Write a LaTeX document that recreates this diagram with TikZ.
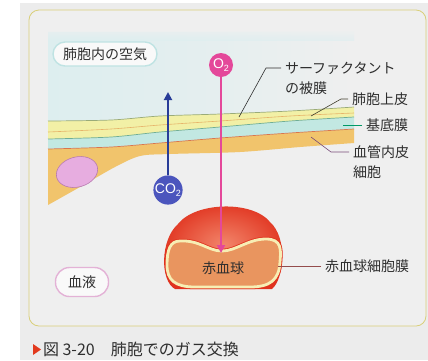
\documentclass[tikz,border=0pt]{standalone}
\usepackage{fontspec}
\setmainfont{Noto Sans CJK JP}
\newfontfamily\latin{Liberation Sans}
\usetikzlibrary{arrows.meta}

\definecolor{pagegrey}{HTML}{ECECEC}
\definecolor{panelgrey}{HTML}{EFEFEF}
\definecolor{panelrim}{HTML}{D9CF7A}
\definecolor{airtint}{HTML}{DDEEEF}
\definecolor{airrim}{HTML}{BFE3E3}
\definecolor{yellowlayer}{HTML}{F2F0A6}
\definecolor{cyanlayer}{HTML}{C2E8E2}
\definecolor{orangelayer}{HTML}{F1C46C}
\definecolor{lineA}{HTML}{9AAB78}
\definecolor{lineB}{HTML}{E6B36A}
\definecolor{lineC}{HTML}{6FAE96}
\definecolor{lineD}{HTML}{D9764C}
\definecolor{nucfill}{HTML}{E7ADE0}
\definecolor{nucrim}{HTML}{B77AB0}
\definecolor{bloodrim}{HTML}{E3B2D6}
\definecolor{otwopink}{HTML}{E4489A}
\definecolor{cotwoblue}{HTML}{4B55BD}
\definecolor{cotwoline}{HTML}{283C98}
\definecolor{rbcdark}{HTML}{E0321E}
\definecolor{rbclight}{HTML}{F2856A}
\definecolor{rbcinner}{HTML}{E9955F}
\definecolor{rbccream}{HTML}{F7EEB4}
\definecolor{textgrey}{HTML}{2E2E2E}
\definecolor{capred}{HTML}{E23A1E}

\newcommand\gassub[1]{\raisebox{-0.5ex}{\fontsize{9}{9}\selectfont #1}}

\tikzset{
  label/.style={inner sep=0pt, outer xsep=4pt, text=textgrey,
    font=\fontsize{14}{16}\selectfont},
  pill/.style={draw, line width=1.4pt, fill=white!60!panelgrey,
    inner sep=0pt, text=textgrey, font=\fontsize{14}{16}\selectfont},
  gas/.style={circle, inner sep=0pt, minimum size=24pt, text=white,
    font=\latin\fontsize{14}{14}\selectfont},
  leader/.style={line width=0.6pt},
}

\begin{document}
\begin{tikzpicture}[x=1pt,y=-1pt]
\useasboundingbox (0,0) rectangle (428,360);
\fill[white] (0,0) rectangle (428,360);
\fill[pagegrey] (20,3) rectangle (428,360);

% framed panel
\filldraw[fill=panelgrey, draw=panelrim, line width=0.8pt, rounded corners=10pt]
  (29,10) rectangle (426,326);

% air inside the alveolus, fading out to the right
\shade[left color=airtint, right color=panelgrey, middle color=airtint!60!panelgrey]
  (48,32) rectangle (354,122);
\shade[top color=panelgrey, bottom color=panelgrey!0!airtint, opacity=0.6]
  (48,30) rectangle (354,40);

% layer boundaries
\def\lineAcoords{(48,121) (111,120) (160,116) (220,114) (290,111) (354,107)}
\def\lineBcoords{(48,132) (111,129) (160,125) (220,121) (290,116) (354,113)}
\def\lineCcoords{(48,139) (111,137) (160,132) (220,127) (290,121) (354,117)}
\def\lineDcoords{(48,149) (111,147) (160,143) (220,138) (290,133) (354,129)}
\def\lineEcoords{(354,143) (300,147) (240,152) (170,154) (140,156) (115,167) (80,187) (48,205)}

% endothelial layer
\fill[orangelayer] plot[smooth] coordinates {\lineDcoords}
  -- plot[smooth] coordinates {\lineEcoords} -- cycle;
% basement membrane
\fill[cyanlayer] plot[smooth] coordinates {\lineCcoords}
  -- plot[smooth] coordinates {(354,129) (290,133) (220,138) (160,143) (111,147) (48,149)} -- cycle;
% alveolar epithelium
\fill[yellowlayer] plot[smooth] coordinates {\lineAcoords}
  -- plot[smooth] coordinates {(354,117) (290,121) (220,127) (160,132) (111,137) (48,139)} -- cycle;

\draw[lineA, line width=0.7pt] plot[smooth] coordinates {\lineAcoords};
\draw[lineB, line width=0.6pt] plot[smooth] coordinates {\lineBcoords};
\draw[lineC, line width=0.7pt] plot[smooth] coordinates {\lineCcoords};
\draw[lineD, line width=0.7pt] plot[smooth] coordinates {\lineDcoords};

% nucleus of the endothelial cell
\filldraw[fill=nucfill, draw=nucrim, line width=0.6pt, rotate around={15:(77,172)}]
  (77,172) ellipse [x radius=21, y radius=15];

% red blood cell
\shade[inner color=rbclight, outer color=rbcdark]
  (175,289) .. controls (160,281) and (160,240) .. (178,224)
  .. controls (195,202) and (252,200) .. (270,222)
  .. controls (288,238) and (284,279) .. (272,289) -- cycle;
\def\rbcinnerpath{(180,241) .. controls (200,240) and (208,251) .. (222,251)
  .. controls (236,251) and (248,239) .. (266,239)
  .. controls (282,239) and (281,250) .. (280,262)
  .. controls (279,280) and (270,287) .. (250,287) -- (195,287)
  .. controls (175,287) and (167,280) .. (167,265)
  .. controls (167,250) and (170,241) .. (180,241) -- cycle}
\draw[rbcdark, line width=4.4pt] \rbcinnerpath;
\filldraw[fill=rbcinner, draw=rbccream, line width=2.8pt] \rbcinnerpath;

% place labels
\node[pill, draw=airrim, minimum width=104pt, minimum height=24pt, rounded corners=12pt]
  (air) at (105,54) {肺胞内の空気};
\node[pill, draw=bloodrim, minimum width=53pt, minimum height=29pt, rounded corners=14pt]
  (blood) at (82,282) {血液};
\node[label] (rbc) at (223,268) {赤血球};

% gas molecules and their paths
\node[gas, fill=otwopink] (otwo) at (221,65) {O\gassub{2}};
\coordinate (otwotip) at (221,253);
\draw[otwopink, line width=1.8pt, -{Triangle[width=8pt,length=8pt]}] (otwo.south) -- (otwotip);

\node[gas, fill=cotwoblue] (cotwo) at (168,190) {CO\gassub{2}};
\coordinate (cotwotip) at (168,92);
\draw[cotwoline, line width=1.9pt, -{Triangle[width=8pt,length=8pt]}] (cotwo.north) -- (cotwotip);

% layer labels and leaders
\node[label, anchor=west] (surfa) at (281,68) {サーファクタント};
\node[label, anchor=west] (surfb) at (281,88) {の被膜};
\coordinate (surfpt) at (239,117);
\draw[leader, textgrey] (surfa.west) -- ++(-15,0) -- (surfpt);

\node[label, anchor=west] (epi) at (348,99) {肺胞上皮};
\coordinate (epipt) at (311,116);
\draw[leader, black!70!olive] (epi.west) -- ++(-7,0) -- (epipt);

\node[label, anchor=west] (basal) at (362,125) {基底膜};
\coordinate (basalpt) at (343,125);
\draw[leader, teal!80!green] (basal.west) -- (basalpt);

\node[label, anchor=west] (endoa) at (349,152) {血管内皮};
\node[label, anchor=west] (endob) at (349,172) {細胞};
\coordinate (endopt) at (311,137);
\draw[leader, violet!50!black!70] (endoa.west) -- ++(-18,0) -- (endopt);

\node[label, anchor=west] (membr) at (321,266) {赤血球細胞膜};
\coordinate (membrpt) at (278,266);
\draw[leader, red!40!black!70] (membr.west) -- (membrpt);

% caption
\fill[capred] (33,344) -- (41,349.5) -- (33,355) -- cycle;
\node[label, anchor=west, outer xsep=0pt, font=\fontsize{16}{18}\selectfont]
  (caption) at (43,349) {図 3-20\hspace{1em}肺胞でのガス交換};
\end{tikzpicture}
\end{document}
